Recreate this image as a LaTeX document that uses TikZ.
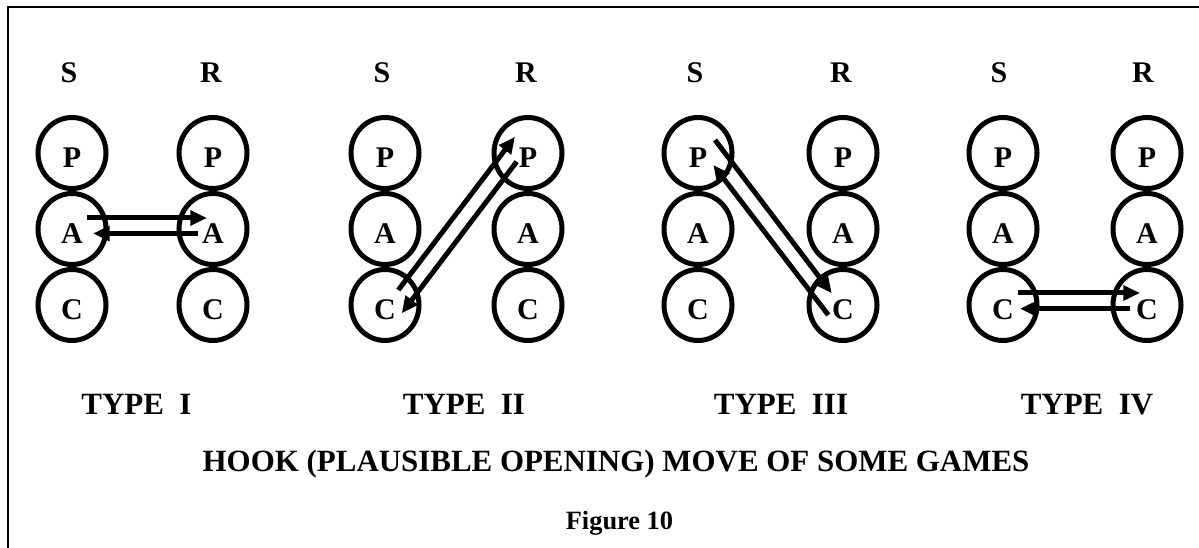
\documentclass[tikz,border=0pt]{standalone}
\usepackage{fontspec}
\setmainfont{Liberation Serif}
\usetikzlibrary{arrows.meta,shapes.geometric}
\tikzset{
  ring/.style={shape=ellipse, draw, line width=3.75pt, minimum width=51pt, minimum height=53.25pt,
    inner sep=0pt, font=\fontsize{22.5}{24}\selectfont\bfseries, text height=22pt, text depth=0pt},
  head/.style={font=\fontsize{22.5}{24}\selectfont\bfseries, anchor=base, inner sep=0pt},
  typelabel/.style={font=\fontsize{23.2}{26}\selectfont\bfseries, anchor=base, inner sep=0pt},
  mv/.style={line width=3.75pt, -{Triangle[length=12.5pt,width=11pt]}},
  frameline/.style={line width=1.5pt}
}
\begin{document}
\begin{tikzpicture}[x=0.75pt,y=-0.75pt]
\useasboundingbox (0,0) rectangle (1199,548);
\fill[white] (0,0) rectangle (1199,548);
% frame
\coordinate (fb) at (7.5,548);
\coordinate (fc) at (7.5,7.5);
\coordinate (fr) at (1199,7.5);
\draw[frameline] (fb) -- (fc) -- (fr);

% ---------- Panel 1 ----------
\node[head] (s1) at (69,83) {S};
\node[head] (r1) at (211,83) {R};
\node[ring] (P1L) at (72,153) {P};
\node[ring] (A1L) at (72,229) {A};
\node[ring] (C1L) at (72,305) {C};
\node[ring] (P1R) at (213,153) {P};
\node[ring] (A1R) at (213,229) {A};
\node[ring] (C1R) at (213,305) {C};
\draw[mv] ([shift={(15,-11)}]A1L.center) -- ([shift={(-6,-11)}]A1R.center);
\draw[mv] ([shift={(-15,4.5)}]A1R.center) -- ([shift={(21,4.5)}]A1L.center);

% ---------- Panel 2 ----------
\node[head] (s2) at (382,83) {S};
\node[head] (r2) at (526,83) {R};
\node[ring] (P2L) at (385,153) {P};
\node[ring] (A2L) at (385,229) {A};
\node[ring] (C2L) at (385,305) {C};
\node[ring] (P2R) at (528,153) {P};
\node[ring] (A2R) at (528,229) {A};
\node[ring] (C2R) at (528,305) {C};
\draw[mv] ([shift={(13.3,-15)}]C2L.center) -- ([shift={(-13,-16.3)}]P2R.center);
\draw[mv] ([shift={(-11.3,8.7)}]P2R.center) -- ([shift={(16.7,8.3)}]C2L.center);

% ---------- Panel 3 ----------
\node[head] (s3) at (695,83) {S};
\node[head] (r3) at (841,83) {R};
\node[ring] (P3L) at (698,153) {P};
\node[ring] (A3L) at (698,229) {A};
\node[ring] (C3L) at (698,305) {C};
\node[ring] (P3R) at (843,153) {P};
\node[ring] (A3R) at (843,229) {A};
\node[ring] (C3R) at (843,305) {C};
\draw[mv] ([shift={(17,-13)}]P3L.center) -- ([shift={(-11.3,-11.7)}]C3R.center);
\draw[mv] ([shift={(-14.7,10)}]C3R.center) -- ([shift={(15.3,12)}]P3L.center);

% ---------- Panel 4 ----------
\node[head] (s4) at (999,83) {S};
\node[head] (r4) at (1143,83) {R};
\node[ring] (P4L) at (1003,153) {P};
\node[ring] (A4L) at (1003,229) {A};
\node[ring] (C4L) at (1003,305) {C};
\node[ring] (P4R) at (1147,153) {P};
\node[ring] (A4R) at (1147,229) {A};
\node[ring] (C4R) at (1147,305) {C};
\draw[mv] ([shift={(15,-12)}]C4L.center) -- ([shift={(-7,-12)}]C4R.center);
\draw[mv] ([shift={(-17,3.7)}]C4R.center) -- ([shift={(17,3.7)}]C4L.center);

% ---------- labels ----------
\node[typelabel] (t1) at (136.5,415) {TYPE\ \ I};
\node[typelabel] (t2) at (464,415) {TYPE\ \ II};
\node[typelabel] (t3) at (781,415) {TYPE\ \ III};
\node[typelabel] (t4) at (1087,415) {TYPE\ \ IV};
\node[typelabel] (title) at (616,472) {HOOK (PLAUSIBLE OPENING) MOVE OF SOME GAMES};
\node[font=\fontsize{19.8}{22}\selectfont\bfseries, anchor=base, inner sep=0pt] (fig) at (619.5,529.5) {Figure 10};
\end{tikzpicture}
\end{document}
